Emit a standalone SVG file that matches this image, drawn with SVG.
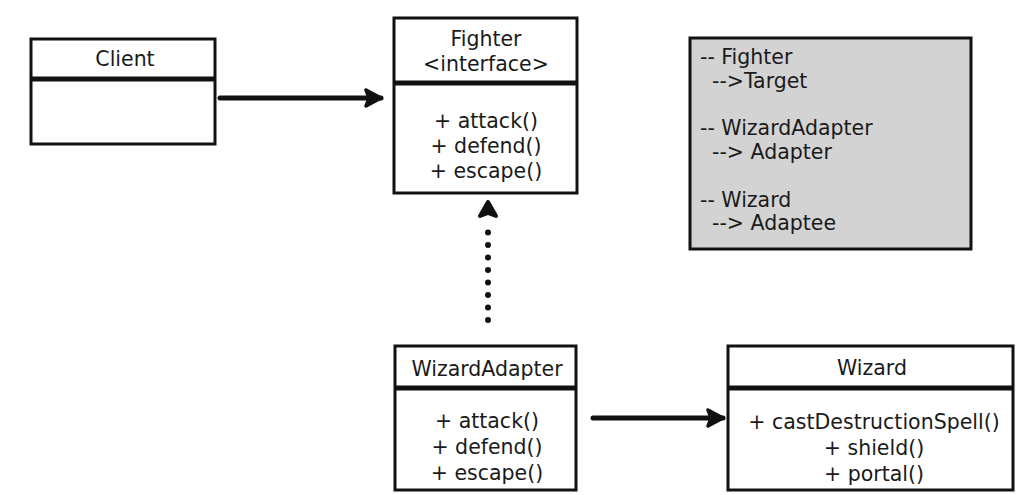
<svg xmlns="http://www.w3.org/2000/svg" width="1024" height="495" viewBox="0 0 1024 495">
<style>
.box{fill:#fff;stroke:#111;stroke-width:3}
.sep{stroke:#111;stroke-width:5}
.t{font-family:"DejaVu Sans","Liberation Sans",sans-serif;font-size:20.5px;fill:#1a1a1a}
.c{text-anchor:middle}
.line{stroke:#111;stroke-width:5;fill:none;stroke-linecap:round}
.dot{stroke:#111;stroke-width:6;fill:none;stroke-linecap:round;stroke-dasharray:0 12.5}
</style>
<defs>
<marker id="ah" viewBox="0 0 20 20" refX="18" refY="10" markerWidth="20" markerHeight="20" markerUnits="userSpaceOnUse" orient="auto">
<path d="M3,2 L18,10 L3,18 L6,10 Z" fill="#111" stroke="#111" stroke-width="3.5" stroke-linejoin="round"/>
</marker>
</defs>
<rect width="1024" height="495" fill="#fff"/>
<g id="connectors">
<line class="line" x1="220" y1="98" x2="381" y2="98" marker-end="url(#ah)"/>
<line class="dot" x1="488" y1="320" x2="488" y2="227"/>
<path d="M488,202 L496,216 L488,213 L480,216 Z" fill="#111" stroke="#111" stroke-width="4" stroke-linejoin="round"/>
<line class="line" x1="593" y1="418" x2="723" y2="418" marker-end="url(#ah)"/>
</g>
<g id="client">
<rect class="box" x="31" y="39" width="184" height="105"/>
<line class="sep" x1="31" y1="79" x2="215" y2="79"/>
<text class="t c" x="125" y="66">Client</text>
</g>
<g id="fighter">
<rect class="box" x="394" y="18" width="183" height="175"/>
<line class="sep" x1="394" y1="83" x2="577" y2="83"/>
<text class="t c" x="486" y="46">Fighter</text>
<text class="t c" x="486" y="71">&lt;interface&gt;</text>
<text class="t c" x="486" y="128">+ attack()</text>
<text class="t c" x="486" y="153">+ defend()</text>
<text class="t c" x="486" y="178">+ escape()</text>
</g>
<g id="legend">
<rect x="690" y="38" width="281" height="211" fill="#d3d3d3" stroke="#111" stroke-width="3"/>
<text class="t" x="700" y="64">-- Fighter</text>
<text class="t" x="712" y="88">--&gt;Target</text>
<text class="t" x="700" y="135">-- WizardAdapter</text>
<text class="t" x="712" y="159">--&gt; Adapter</text>
<text class="t" x="700" y="207">-- Wizard</text>
<text class="t" x="712" y="230">--&gt; Adaptee</text>
</g>
<g id="wizardAdapter">
<rect class="box" x="395" y="346" width="181" height="144"/>
<line class="sep" x1="395" y1="388" x2="576" y2="388"/>
<text class="t c" x="487" y="376">WizardAdapter</text>
<text class="t c" x="487" y="428">+ attack()</text>
<text class="t c" x="487" y="454">+ defend()</text>
<text class="t c" x="487" y="480">+ escape()</text>
</g>
<g id="wizard">
<rect class="box" x="728" y="346" width="285" height="144"/>
<line class="sep" x1="728" y1="388" x2="1013" y2="388"/>
<text class="t c" x="872" y="375">Wizard</text>
<text class="t c" x="874" y="429">+ castDestructionSpell()</text>
<text class="t c" x="874" y="455">+ shield()</text>
<text class="t c" x="874" y="481">+ portal()</text>
</g>
</svg>
